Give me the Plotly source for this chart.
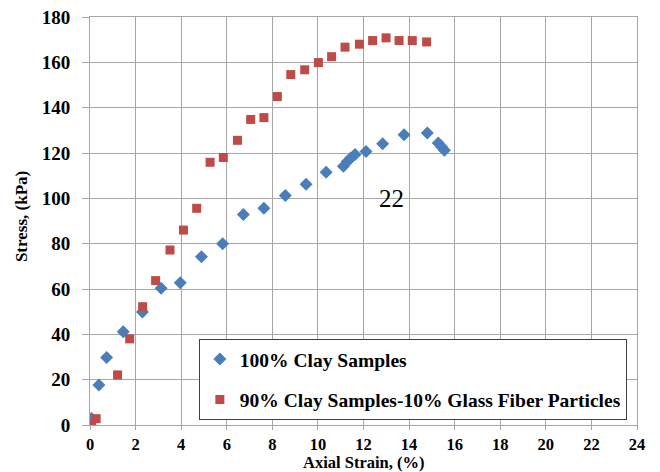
import plotly.graph_objects as go

# Unconfined compression: axial strain (%) vs stress (kPa)
clay_strain = [0.0, 0.07, 0.39, 0.73, 1.46, 2.30, 3.12, 3.96, 4.89, 5.82, 6.73, 7.63,
               8.57, 9.48, 10.36, 11.12, 11.29, 11.44, 11.63, 12.11, 12.84, 13.78,
               14.80, 15.28, 15.43, 15.55]
clay_stress = [0.4, 2.9, 17.6, 29.8, 41.1, 49.9, 60.3, 62.8, 74.2, 80.0, 92.9, 95.6,
               101.2, 106.2, 111.5, 114.1, 116.3, 117.8, 119.3, 120.7, 124.1, 128.1,
               128.8, 124.4, 122.6, 121.2]

fiber_strain = [0.07, 0.27, 1.21, 1.74, 2.31, 2.88, 3.51, 4.10, 4.68, 5.27, 5.85, 6.47,
                7.05, 7.63, 8.22, 8.81, 9.42, 10.02, 10.60, 11.19, 11.82, 12.40, 12.99,
                13.56, 14.14, 14.77]
fiber_stress = [0.0, 2.8, 22.1, 38.0, 52.2, 63.7, 77.2, 86.0, 95.6, 115.9, 118.0, 125.6,
                134.8, 135.6, 144.9, 154.6, 156.7, 159.9, 162.5, 166.7, 168.0, 169.6,
                170.8, 169.6, 169.6, 169.0]

x_ticks = list(range(0, 25, 2))
y_ticks = list(range(0, 181, 20))

SERIF = "Liberation Serif"
GRID = "#a6a6a6"


def bold(size):
    return dict(family=SERIF, size=size, color="black", weight="bold")


fig = go.Figure()
fig.add_trace(go.Scatter(
    x=clay_strain, y=clay_stress, mode="markers", name="100% Clay Samples",
    marker=dict(symbol="diamond", size=10, color="#4a7ebb"),
    legendgroup="a",
))
fig.add_trace(go.Scatter(
    x=fiber_strain, y=fiber_stress, mode="markers",
    name="90% Clay Samples-10% Glass Fiber Particles",
    marker=dict(symbol="square", size=9, color="#be4b48"),
    legendgroup="b",
))

fig.add_annotation(x=13.24, y=100, text="22", showarrow=False,
                   font=dict(family=SERIF, size=25, color="black"))

# axis titles placed as annotations so the plot area keeps its fixed margins
fig.add_annotation(x=0.5, y=-0.0931, xref="paper", yref="paper",
                   xanchor="center", yanchor="middle", showarrow=False,
                   text="Axial Strain, (%)", font=bold(16.5))
fig.add_annotation(x=-0.124, y=0.51, xref="paper", yref="paper",
                   xanchor="center", yanchor="middle", showarrow=False,
                   textangle=-90, text="Stress, (kPa)", font=bold(17))

fig.update_xaxes(
    range=[0, 24], tickvals=x_ticks,
    showgrid=True, gridcolor=GRID, gridwidth=1,
    showline=True, linecolor=GRID, linewidth=1, mirror=True,
    ticks="outside", ticklen=4, tickcolor=GRID,
    tickfont=bold(16.5),
    zeroline=False, automargin=False,
)
fig.update_yaxes(
    range=[0, 180], tickvals=y_ticks,
    showgrid=True, gridcolor=GRID, gridwidth=1,
    showline=True, linecolor=GRID, linewidth=1, mirror=True,
    ticks="outside", ticklen=7, tickcolor=GRID,
    tickfont=bold(19),
    ticklabelstandoff=8,
    zeroline=False, automargin=False,
)

fig.update_layout(
    width=660, height=472,
    margin=dict(l=90, r=23, t=17, b=47),
    paper_bgcolor="white", plot_bgcolor="white",
    legend=dict(
        x=0.199, y=0.211, xanchor="left", yanchor="top",
        bgcolor="white", bordercolor="#404040", borderwidth=1,
        font=bold(19.5),
        traceorder="grouped", tracegroupgap=12,
    ),
    showlegend=True,
)

fig.write_html("out.html")
